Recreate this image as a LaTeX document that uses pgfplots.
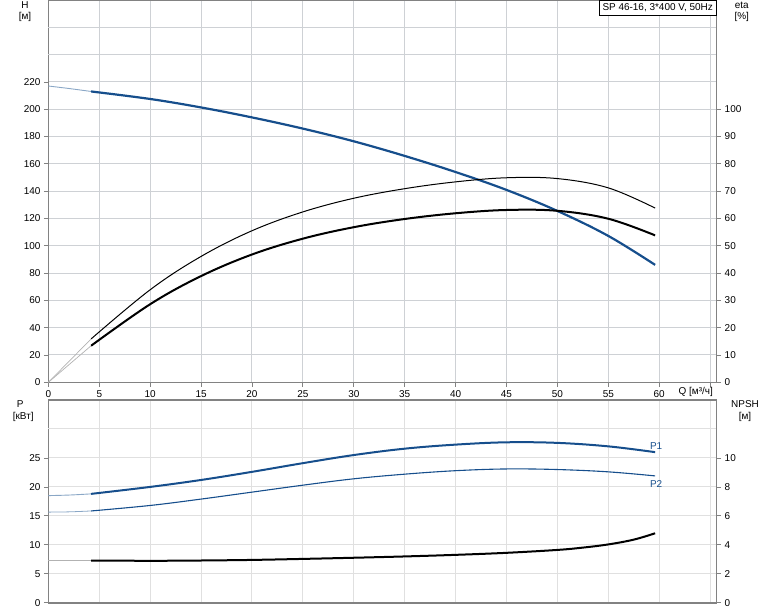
\documentclass[border=0pt]{standalone}
\usepackage{pgfplots}
\pgfplotsset{compat=1.18}
\usepackage{fontspec}
\setmainfont{Liberation Sans}
\definecolor{cblue}{RGB}{22,78,140}
\definecolor{gridA}{RGB}{206,209,213}
\definecolor{gridB}{RGB}{224,224,224}
\definecolor{axcol}{RGB}{130,130,130}
\newcommand\fs{\fontsize{10}{12}\selectfont}
\pgfplotsset{
  base/.style={scale only axis, width=668.3bp, xmin=0, xmax=65.65,
    axis line style={draw=axcol, line width=1.4bp},
    tick style={draw=axcol, line width=0.8bp},
    major tick length=4.5bp, tick align=outside,
    ticklabel style={font=\fs, text=black},
    /pgf/number format/assume math mode=true,
    xtick={0,5,...,65}, clip=false},
  every axis plot/.append style={tension=0.6},
}
\begin{document}
\begin{tikzpicture}
\path[use as bounding box] (0,0) rectangle (774bp,611bp);
% ---------- top: H ----------
\begin{axis}[base, at={(48.4bp,228.7bp)}, anchor=south west, height=382.3bp,
  ymin=0, ymax=280, ytick={0,20,...,220},
  xticklabels={0,5,10,15,20,25,30,35,40,45,50,55,60,{}},
  extra y ticks={240,260}, extra y tick labels={},
  extra y tick style={grid=major, tick style={draw=none}},
  xmajorgrids, ymajorgrids, major grid style={draw=gridA, line width=1bp},
  xtick pos=bottom, ytick pos=left]
\addplot[cblue!50, line width=0.9bp, smooth] coordinates {(0,217)(2.1,215.1)(4.2,213)};
\addplot[cblue, line width=2.2bp, smooth] coordinates {(4.2,213)(10,207.5)(15,201.3)(20,194)(25,185.8)(30,176.5)(35,165.8)(40,154)(45,140.9)(50,125.5)(55,107.2)(59.6,86)};
\end{axis}
% ---------- top: eta ----------
\begin{axis}[base, at={(48.4bp,228.7bp)}, anchor=south west, height=382.3bp,
  ymin=0, ymax=140, ytick={0,10,...,100},
  axis x line=none, axis y line*=right]
\addplot[gray!60, line width=0.7bp] coordinates {(0,0)(4.2,15.9)};
\addplot[gray!60, line width=0.7bp] coordinates {(0,0)(4.2,13.4)};
\addplot[black, line width=1bp, smooth] coordinates {(4.2,15.9)(10,33.9)(15,46.1)(20,55.5)(25,62.4)(30,67.4)(35,70.9)(40,73.4)(45,74.9)(50,74.6)(55,71.2)(59.6,63.8)};
\addplot[black, line width=2bp, smooth] coordinates {(4.2,13.4)(10,28.6)(15,38.9)(20,46.8)(25,52.6)(30,56.8)(35,59.8)(40,61.9)(45,63.1)(50,62.8)(55,59.9)(59.6,53.8)};
\node[draw=black, line width=0.6bp, fill=white, anchor=north east, font=\fs,
  inner xsep=3.5bp, inner ysep=2.5bp, text height=8bp, text depth=2.5bp]
  at (rel axis cs:1,1) {SP 46-16, 3*400 V, 50Hz};
\end{axis}
% ---------- bottom: P ----------
\begin{axis}[base, at={(48.4bp,8.2bp)}, anchor=south west, height=202.8bp,
  ymin=0, ymax=35, ytick={0,5,...,25}, xticklabels={},
  extra y ticks={30}, extra y tick labels={},
  extra y tick style={grid=major, tick style={draw=none}},
  x tick style={draw=none},
  xmajorgrids, ymajorgrids, major grid style={draw=gridB, line width=1bp},
  xtick pos=bottom, ytick pos=left]
\addplot[cblue!50, line width=0.9bp, smooth] coordinates {(0,18.5)(2.1,18.6)(4.2,18.8)};
\addplot[cblue!50, line width=0.8bp, smooth] coordinates {(0,15.65)(2.1,15.7)(4.2,15.85)};
\addplot[cblue, line width=2bp, smooth] coordinates {(4.2,18.8)(10,20.0)(15,21.2)(20,22.6)(25,24.1)(30,25.5)(35,26.6)(40,27.3)(45,27.7)(50,27.6)(55,27.0)(59.6,26.0)};
\addplot[cblue, line width=1.1bp, smooth] coordinates {(4.2,15.85)(10,16.8)(15,17.9)(20,19.1)(25,20.3)(30,21.4)(35,22.2)(40,22.8)(45,23.1)(50,23.0)(55,22.6)(59.6,21.9)};
\node[font=\fs, text=cblue] at (axis cs:59.7,27.1) {P1};
\node[font=\fs, text=cblue] at (axis cs:59.7,20.55) {P2};
\end{axis}
% ---------- bottom: NPSH ----------
\begin{axis}[base, at={(48.4bp,8.2bp)}, anchor=south west, height=202.8bp,
  ymin=0, ymax=14, ytick={0,2,...,10},
  axis x line=none, axis y line*=right]
\addplot[gray!60, line width=0.8bp] coordinates {(0,2.92)(4.2,2.92)};
\addplot[black, line width=2bp, smooth] coordinates {(4.2,2.92)(10,2.9)(15,2.92)(20,2.96)(25,3.03)(30,3.11)(35,3.2)(40,3.31)(45,3.45)(50,3.65)(52.5,3.81)(55,4.03)(57.5,4.36)(59.6,4.8)};
\end{axis}
% ---------- labels ----------
\node[font=\fs] at (25bp,606bp) {H};
\node[font=\fs] at (25bp,594bp) {[м]};
\node[font=\fs] at (741.7bp,606bp) {eta};
\node[font=\fs] at (741.7bp,594bp) {[\%]};
\node[font=\fs, anchor=east, inner sep=0pt] at (713bp,219.3bp) {Q [м³/ч]};
\node[font=\fs] at (20.3bp,207.3bp) {P};
\node[font=\fs] at (23.2bp,194.3bp) {[кВт]};
\node[font=\fs] at (745bp,206.7bp) {NPSH};
\node[font=\fs] at (745bp,193.7bp) {[м]};
\end{tikzpicture}
\end{document}
